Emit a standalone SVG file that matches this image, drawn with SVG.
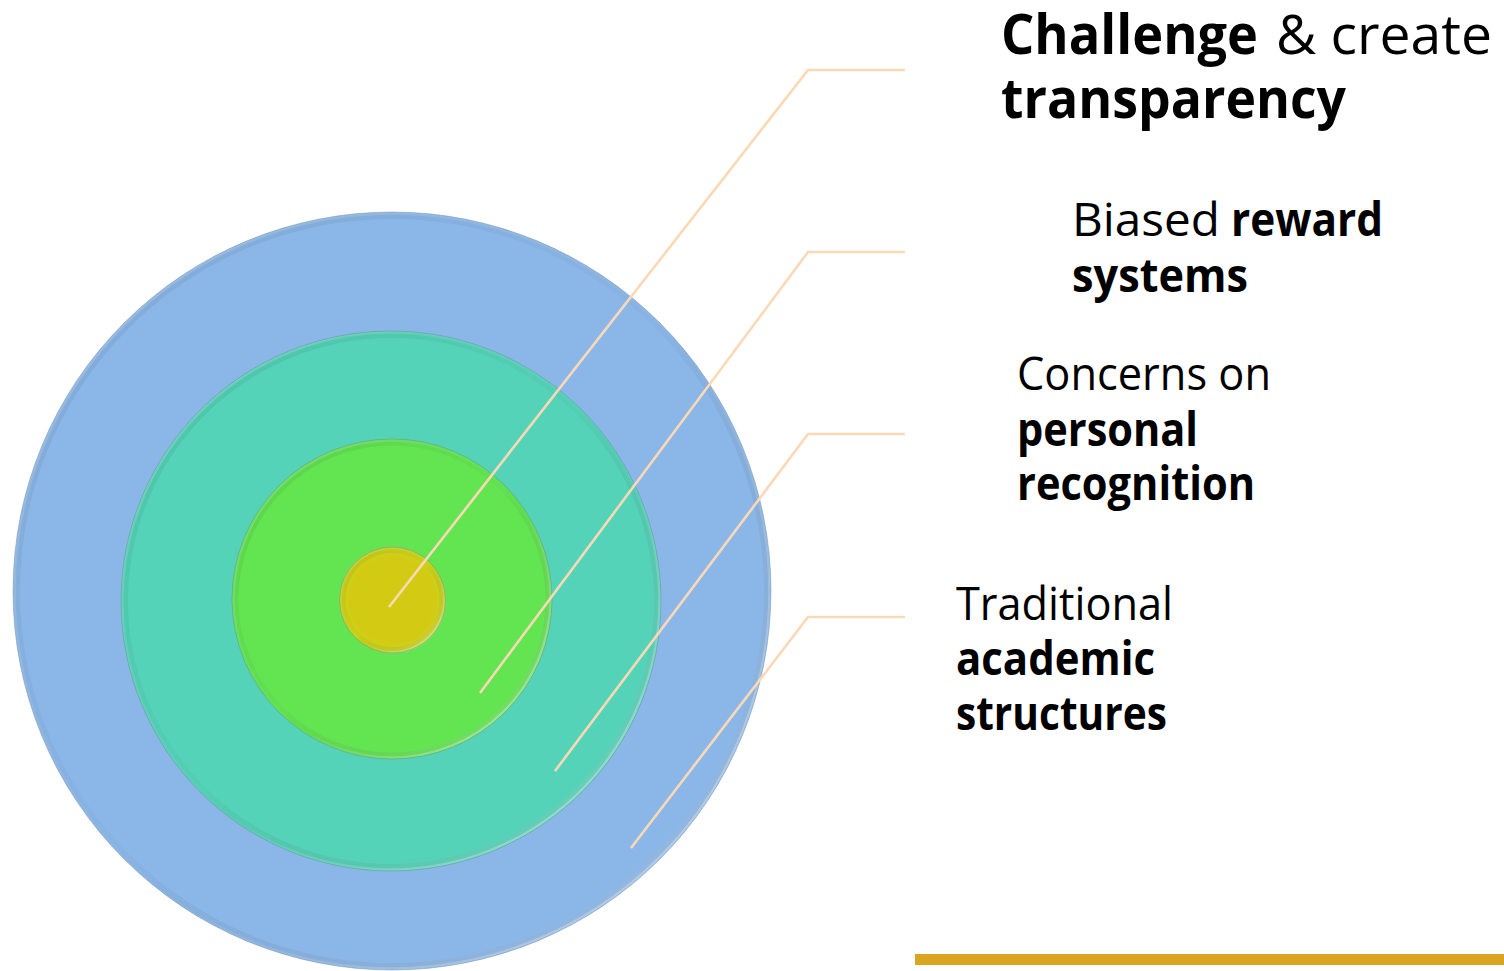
<svg xmlns="http://www.w3.org/2000/svg" width="1504" height="971" viewBox="0 0 1504 971">
  <defs>
    <!-- bevel shading laid over each ring: slightly dark towards the upper left, light towards the lower right -->
    <linearGradient id="bevel" x1="0" y1="0" x2="1" y2="1">
      <stop offset="0" stop-color="#000" stop-opacity="0.08"/>
      <stop offset="0.5" stop-color="#000" stop-opacity="0.02"/>
      <stop offset="1" stop-color="#fff" stop-opacity="0.25"/>
    </linearGradient>
    <linearGradient id="rim" x1="0" y1="0" x2="1" y2="1">
      <stop offset="0" stop-color="#fff" stop-opacity="0.2"/>
      <stop offset="0.55" stop-color="#fff" stop-opacity="0"/>
      <stop offset="1" stop-color="#fff" stop-opacity="0.4"/>
    </linearGradient>
    <radialGradient id="coreFill" cx="0.5" cy="0.5" r="0.5">
      <stop offset="0" stop-color="#D2CB12"/>
      <stop offset="0.8" stop-color="#D3CA14"/>
      <stop offset="1" stop-color="#C9D81E"/>
    </radialGradient>
    <style>
      .edge { fill: none; stroke: #6a7f8c; stroke-opacity: 0.4; stroke-width: 1; }
      .bevel { fill: none; stroke: url(#bevel); stroke-width: 6; }
      .rim { fill: none; stroke: url(#rim); stroke-width: 2.5; }
      .leader { fill: none; stroke: #FBD8B6; stroke-width: 2.6; stroke-linejoin: round; }
      .lbl { font-family: "Open Sans", "Noto Sans", sans-serif; fill: #000; }
      .b { font-weight: 700; }
      .r { font-weight: 400; }
      .big { font-size: 55px; }
      .mid { font-size: 46px; }
    </style>
  </defs>

  <rect width="1504" height="971" fill="#fff"/>

  <!-- outer ring: traditional academic structures -->
  <g id="ring-structures">
    <circle cx="392" cy="591" r="379" fill="#8BB7E8"/>
    <circle cx="392" cy="591" r="375" class="bevel"/>
    <circle cx="392" cy="591" r="377.5" class="rim"/>
    <circle cx="392" cy="591" r="379" class="edge"/>
  </g>

  <!-- second ring: personal recognition -->
  <g id="ring-recognition">
    <circle cx="391" cy="601" r="270" fill="#55D3B8"/>
    <circle cx="391" cy="601" r="266" class="bevel"/>
    <circle cx="391" cy="601" r="268.5" class="rim"/>
    <circle cx="391" cy="601" r="270" class="edge"/>
  </g>

  <!-- third ring: reward systems -->
  <g id="ring-reward">
    <circle cx="392" cy="599" r="160" fill="#63E552"/>
    <circle cx="392" cy="599" r="156.5" class="bevel"/>
    <circle cx="392" cy="599" r="158.5" class="rim"/>
    <circle cx="392" cy="599" r="160" class="edge"/>
  </g>

  <!-- core: transparency -->
  <g id="ring-core">
    <circle cx="392.5" cy="600" r="53" fill="url(#coreFill)"/>
    <circle cx="392.5" cy="600" r="50" class="bevel"/>
    <circle cx="392.5" cy="600" r="52" class="rim"/>
    <circle cx="392.5" cy="600" r="53" class="edge"/>
  </g>

  <!-- leader lines from each ring to its label -->
  <g id="connectors">
    <polyline class="leader" points="389,607 808,70 905,70"/>
    <polyline class="leader" points="480,693 808,252 905,252"/>
    <polyline class="leader" points="555,771 808,434 905,434"/>
    <polyline class="leader" points="631,848 808,617 905,617"/>
  </g>

  <g id="label-transparency">
    <text class="lbl b big" x="1001" y="54" textLength="257" lengthAdjust="spacingAndGlyphs">Challenge</text>
    <text class="lbl r big" x="1276" y="54" textLength="216" lengthAdjust="spacingAndGlyphs">&amp; create</text>
    <text class="lbl b big" x="1001" y="118" textLength="345" lengthAdjust="spacingAndGlyphs">transparency</text>
  </g>

  <g id="label-reward">
    <text class="lbl r mid" x="1072" y="236" textLength="148" lengthAdjust="spacingAndGlyphs">Biased</text>
    <text class="lbl b mid" x="1231" y="236" textLength="152" lengthAdjust="spacingAndGlyphs">reward</text>
    <text class="lbl b mid" x="1072" y="292" textLength="176" lengthAdjust="spacingAndGlyphs">systems</text>
  </g>

  <g id="label-recognition">
    <text class="lbl r mid" x="1017" y="390" textLength="254" lengthAdjust="spacingAndGlyphs">Concerns on</text>
    <text class="lbl b mid" x="1017" y="446" textLength="181" lengthAdjust="spacingAndGlyphs">personal</text>
    <text class="lbl b mid" x="1017" y="500" textLength="238" lengthAdjust="spacingAndGlyphs">recognition</text>
  </g>

  <g id="label-structures">
    <text class="lbl r mid" x="956" y="620" textLength="217" lengthAdjust="spacingAndGlyphs">Traditional</text>
    <text class="lbl b mid" x="956" y="675" textLength="199" lengthAdjust="spacingAndGlyphs">academic</text>
    <text class="lbl b mid" x="956" y="730" textLength="211" lengthAdjust="spacingAndGlyphs">structures</text>
  </g>

  <!-- gold accent bar -->
  <rect id="accent-bar" x="915" y="954" width="589" height="11" fill="#DAA520"/>
</svg>
